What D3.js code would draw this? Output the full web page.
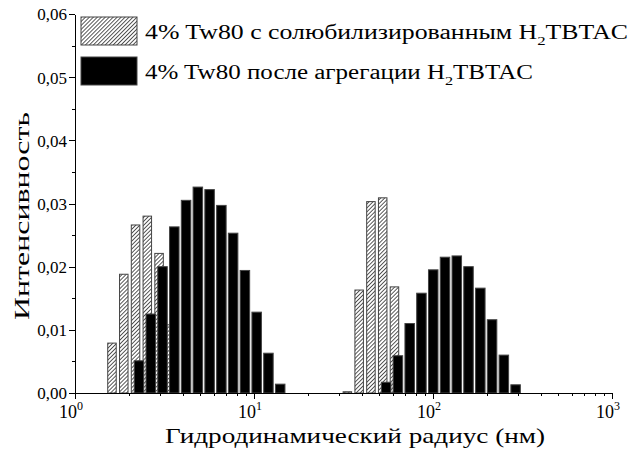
<!DOCTYPE html>
<html lang="ru">
<head>
    <meta charset="UTF-8">
    <title>DLS</title>
    <script src="https://d3js.org/d3.v7.min.js"></script>
    <style>
        body { margin: 0; background: #fff; }
        svg text { font-family: "Liberation Serif", "DejaVu Serif", "Times New Roman", serif; fill: #000; }
        .axis path, .axis line { stroke: #000; shape-rendering: crispEdges; }
    </style>
</head>
<body>
<svg width="633" height="450"></svg>
<script>
// bin centres (nm) and intensities
var solRadius = [1.609, 1.873, 2.179, 2.535, 2.949, 3.431,
                 33.24, 38.68, 45.00, 52.36, 60.91];
var solValue  = [0.0079, 0.0188, 0.0266, 0.0280, 0.0221, 0.0108,
                 0.0002, 0.0163, 0.0303, 0.0309, 0.0168];

var aggRadius = [2.278, 2.651, 3.083, 3.587, 4.173, 4.856, 5.649, 6.573, 7.645, 8.896, 10.35, 12.04, 14.01,
                 54.73, 63.68, 74.10, 86.18, 100.3, 116.7, 135.8, 157.9, 183.8, 213.8, 248.8, 289.4];
var aggValue  = [0.0051, 0.0125, 0.0200, 0.0263, 0.0305, 0.0326, 0.0322, 0.0297, 0.0253, 0.0194, 0.0128, 0.0063, 0.0014,
                 0.0017, 0.0059, 0.0110, 0.0158, 0.0195, 0.0215, 0.0217, 0.0200, 0.0166, 0.0116, 0.0060, 0.0013];

var xMajor = [1, 10, 100, 1000];
var xExp = ["0", "1", "2", "3"];
var yMajor = [0, 0.01, 0.02, 0.03, 0.04, 0.05, 0.06];
var yMinor = [0.005, 0.015, 0.025, 0.035, 0.045, 0.055];

var svg = d3.select("svg");

var x = d3.scaleLog().domain([1, 1000]).range([75, 612]);
var y = d3.scaleLinear().domain([0, 0.06]).range([393, 14]);

// hatch pattern
var defs = svg.append("defs");
defs.append("pattern")
    .attr("id", "hatch")
    .attr("patternUnits", "userSpaceOnUse")
    .attr("width", 2.8).attr("height", 2.8)
    .attr("patternTransform", "rotate(45)")
  .append("line")
    .attr("x1", 0).attr("y1", 0).attr("x2", 0).attr("y2", 2.8)
    .attr("stroke", "#000").attr("stroke-width", 1.3);

var solW = 8.5, aggW = 9.5;

// hatched bars first
svg.selectAll(".sol")
    .data(solRadius)
  .enter().append("rect")
    .attr("class", "sol")
    .attr("x", function(d) { return x(d) - solW / 2; })
    .attr("width", solW)
    .attr("y", function(d, i) { return y(solValue[i]); })
    .attr("height", function(d, i) { return y(0) - y(solValue[i]); })
    .attr("fill", "url(#hatch)")
    .attr("stroke", "#444")
    .attr("stroke-width", 1);

// black bars on top
svg.selectAll(".agg")
    .data(aggRadius)
  .enter().append("rect")
    .attr("class", "agg")
    .attr("x", function(d) { return x(d) - aggW / 2; })
    .attr("width", aggW)
    .attr("y", function(d, i) { return y(aggValue[i]); })
    .attr("height", function(d, i) { return y(0) - y(aggValue[i]); })
    .attr("fill", "#000")
    .attr("stroke", "#444")
    .attr("stroke-width", 1);

// x axis
var xMinor = [];
[1, 10, 100].forEach(function(dec) {
    for (var m = 2; m <= 9; m++) xMinor.push(dec * m);
});
svg.append("g")
    .attr("class", "axis")
    .attr("transform", "translate(0,393)")
    .call(d3.axisBottom(x).tickValues(xMinor).tickSize(3).tickFormat(""))
    .select(".domain").remove();
var gx = svg.append("g")
    .attr("class", "axis")
    .attr("transform", "translate(0,393)")
    .call(d3.axisBottom(x).tickValues(xMajor).tickSize(6).tickSizeOuter(0).tickFormat(""));
gx.select(".domain").attr("stroke-width", 1.3);

var xl = svg.selectAll(".xlab")
    .data(xMajor)
  .enter().append("text")
    .attr("class", "xlab")
    .attr("x", function(d) { return x(d) - 4; })
    .attr("y", 418)
    .attr("text-anchor", "middle")
    .attr("font-size", 18);
xl.append("tspan").text("10");
xl.append("tspan")
    .attr("dy", -8)
    .attr("font-size", 12)
    .text(function(d, i) { return xExp[i]; });

// y axis
svg.append("g")
    .attr("class", "axis")
    .attr("transform", "translate(75,0)")
    .call(d3.axisLeft(y).tickValues(yMinor).tickSize(3).tickFormat(""))
    .select(".domain").remove();
var gy = svg.append("g")
    .attr("class", "axis")
    .attr("transform", "translate(75,0)")
    .call(d3.axisLeft(y).tickValues(yMajor).tickSize(6).tickSizeOuter(0)
        .tickFormat(function(d) { return d.toFixed(2).replace(".", ","); }));
gy.select(".domain").attr("stroke-width", 1.3);
gy.attr("font-family", null).attr("font-size", 17);
gy.selectAll("text")
    .attr("x", -8)
    .attr("dy", "0.35em");

// axis titles
svg.append("text")
    .attr("x", 355).attr("y", 443)
    .attr("text-anchor", "middle")
    .attr("textLength", 380)
    .attr("lengthAdjust", "spacingAndGlyphs")
    .attr("font-size", 22)
    .text("Гидродинамический радиус (нм)");
svg.append("text")
    .attr("transform", "translate(29,216) rotate(-90)")
    .attr("text-anchor", "middle")
    .attr("textLength", 208)
    .attr("lengthAdjust", "spacingAndGlyphs")
    .attr("font-size", 22)
    .text("Интенсивность");

// legend
var legend = [
    {label: "4% Tw80 с солюбилизированным H", len: 483, fill: "url(#hatch)", stroke: "#444"},
    {label: "4% Tw80 после агрегации H", len: 388, fill: "#000", stroke: "#444"}
];
var lg = svg.selectAll(".leg")
    .data(legend)
  .enter().append("g")
    .attr("class", "leg")
    .attr("transform", function(d, i) { return "translate(81," + (17 + i * 40) + ")"; });
lg.append("rect")
    .attr("width", 56).attr("height", 28)
    .attr("fill", function(d) { return d.fill; })
    .attr("stroke", function(d) { return d.stroke; })
    .attr("stroke-width", 1);
var lt = lg.append("text")
    .attr("x", 64).attr("y", 22)
    .attr("textLength", function(d) { return d.len; })
    .attr("lengthAdjust", "spacingAndGlyphs")
    .attr("font-size", 20);
lt.append("tspan").text(function(d) { return d.label; });
lt.append("tspan").attr("dy", 6).attr("font-size", 13).text("2");
lt.append("tspan").attr("dy", -6).text("TBTAC");
</script>
</body>
</html>
